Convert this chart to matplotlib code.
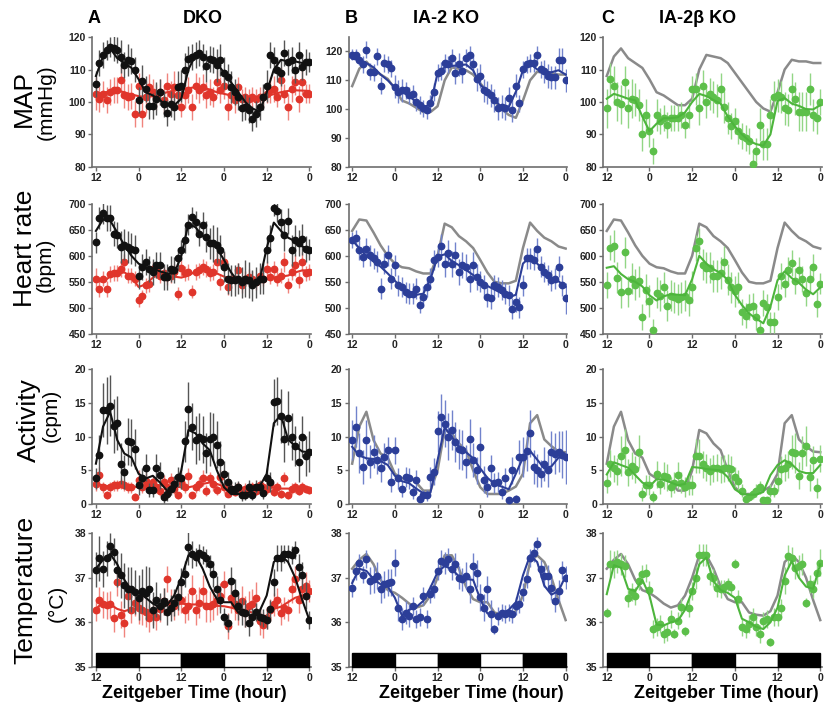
import numpy as np
import matplotlib.pyplot as plt
from matplotlib.patches import Rectangle

plt.rcParams['font.family'] = ['Liberation Sans', 'DejaVu Sans']

# hours after ZT12 of the first night, one point per hour, fitted curves every 2 h
hours = np.arange(61)
fit_hours = np.arange(0, 61, 2)
tick_pos = [0, 12, 24, 36, 48, 60]
tick_lab = ['12', '0', '12', '0', '12', '0']
phases = ['dark', 'light', 'dark', 'light', 'dark']

# ---- MAP (mmHg)
map_wt = [105.6, 112, 114.5, 116, 117, 116.5, 116, 114, 111.5, 113,
          112.5, 110, 100.5, 106.5, 104, 98.8, 98.7, 101, 103, 99.5,
          96.5, 99.5, 98.5, 104.5, 105, 110, 113.3, 113.8, 114.4, 115,
          114, 111, 113.3, 112.8, 111.3, 113, 109, 107.7, 104.6, 103,
          101.5, 98, 98.5, 97.4, 94.9, 96.4, 98.5, 101.5, 105, 114.4,
          113, 110, 109, 115, 112.3, 112.8, 109.7, 114.4, 110.8, 112.3,
          112.3]
map_wt_err = [4, 4, 4, 3, 3, 4, 4, 5, 4, 5,
              4, 4, 4, 5, 4, 4, 4, 5, 4, 4,
              4, 4, 4, 5, 5, 5, 4, 4, 4, 4,
              4, 5, 4, 4, 5, 5, 5, 4, 5, 4,
              4, 4, 4, 4, 4, 4, 4, 4, 5, 4,
              4, 4, 4, 4, 4, 4, 4, 4, 4, 4,
              3]
map_wt_fit = [108, 114, 116.5, 113.5, 112, 110.5, 107, 103, 102, 100.5,
              99, 99, 101, 110, 114.5, 114, 113.5, 112, 109, 106,
              103, 100, 98, 97, 103, 110, 113, 112.5, 112.5, 112,
              112]
map_dko = [102.6, 101, 102.6, 100.5, 103, 103.6, 103.6, 106.7, 102, 101.5,
           101.7, 96.4, 105, 96.4, 101.5, 104.6, 103, 101.5, 103, 100.5,
           105, 102.6, 104.6, 102, 98.5, 102, 103.6, 98.5, 105, 103.6,
           104.6, 102, 103, 101.5, 106, 103.6, 105, 98.5, 102, 100.5,
           104.6, 101, 101.5, 101, 101.5, 101, 101.5, 101.5, 102.6, 103.6,
           104, 101.5, 106.7, 102.6, 98.5, 104, 106, 101, 106, 102.6,
           102.6]
map_dko_err = [5, 4, 4, 4, 4, 4, 4, 4, 4, 4,
               4, 4, 4, 4, 5, 4, 4, 4, 4, 4,
               4, 4, 5, 4, 3, 4, 4, 4, 4, 4,
               4, 4, 4, 3, 4, 4, 4, 4, 4, 4,
               3, 3, 3, 3, 3, 3, 3, 3, 3, 4,
               4, 3, 4, 3, 4, 4, 4, 4, 4, 3,
               3]
map_dko_fit = [102.5, 102.8, 103.3, 103.5, 103, 102.3, 101.8, 101.5, 101.8, 102.3,
               103, 103.5, 103.8, 104.2, 104.6, 104.5, 103.8, 103, 102.5, 102,
               101.6, 101.4, 101.3, 101.4, 101.8, 102.4, 103, 103.4, 103.6, 103.5,
               103.4]
map_ia2 = [118.9, 118.9, 117.2, 115.5, 120.6, 113, 112.8, 118.3, 108.2, 116,
           115.5, 114.2, 107.8, 106, 106.5, 106.5, 104.8, 105.4, 102.5, 101.4,
           100.3, 99.7, 102, 106, 112.7, 113.2, 116, 115.5, 117.7, 112.7,
           115.5, 113.2, 117.7, 118.9, 115.5, 110.4, 111.5, 106.5, 105.9, 104.8,
           103.1, 100.3, 100.8, 100.3, 103.7, 99.7, 108.2, 102, 113.8, 115.5,
           116, 116, 118.9, 113.8, 113.2, 111.5, 111, 111, 117.2, 117.2,
           110]
map_ia2_err = [2, 2, 2, 3, 3, 3, 3, 3, 3, 3,
               3, 3, 4, 4, 4, 3, 3, 3, 3, 3,
               3, 3, 3, 3, 3, 3, 3, 3, 3, 4,
               4, 4, 3, 3, 3, 4, 4, 4, 4, 4,
               4, 4, 4, 4, 4, 4, 4, 3, 3, 3,
               3, 3, 3, 3, 4, 4, 4, 4, 4, 4,
               4]
map_ia2_fit = [117.5, 117, 116, 114.5, 112, 110, 107.5, 106, 104.5, 102.5,
               100.8, 101.5, 112.5, 114.5, 115, 115.2, 115.5, 113.5, 108.5, 106,
               103, 100.8, 100.8, 106, 113.5, 115.8, 113.8, 113, 112.8, 113.5,
               112]
map_ia2b = [98, 107, 105, 100, 99.3, 106, 98, 101, 100.7, 99,
            90, 96, 91, 85, 96, 94, 95, 93, 95, 95,
            95, 96, 93, 96, 104, 104, 98, 105, 100, 102.5,
            101.5, 100.5, 104, 98.5, 95, 92.5, 94, 91, 89.5, 89,
            88, 81, 85, 93, 87, 87, 96, 101.5, 102, 101.5,
            98, 97.5, 104, 101, 97, 97, 97, 104, 96, 95,
            100]
map_ia2b_err = [6, 5, 6, 6, 6, 5, 6, 6, 5, 5,
                5, 5, 5, 4, 5, 4, 4, 4, 4, 4,
                4, 4, 4, 4, 4, 5, 5, 5, 5, 5,
                5, 5, 5, 5, 5, 4, 4, 4, 4, 4,
                4, 4, 4, 5, 5, 5, 5, 5, 5, 5,
                5, 5, 5, 5, 6, 6, 6, 5, 5, 5,
                4]
map_ia2b_fit = [101, 102.5, 101.8, 101, 100.5, 95.5, 91, 93.3, 95, 95,
                95.3, 96.8, 100, 102.5, 101.8, 100.6, 99.5, 95.5, 92.5, 90,
                88, 87, 86.5, 90, 100.3, 101.2, 99.5, 98.8, 97.8, 97.7,
                99]

# ---- Heart rate (bpm)
hr_wt = [626, 673, 682, 673, 673, 643, 640, 617, 621, 617,
         614, 611, 562, 579, 588, 575, 569, 582, 583, 559,
         560, 575, 572, 595, 611, 630, 660, 674, 666, 643,
         660, 637, 624, 624, 621, 611, 579, 556, 553, 553,
         556, 549, 556, 553, 543, 549, 556, 556, 611, 634,
         692, 686, 666, 640, 668, 611, 630, 624, 632, 614,
         612]
hr_wt_err = [20, 22, 20, 25, 25, 25, 25, 30, 30, 30,
             30, 30, 25, 25, 25, 25, 25, 25, 25, 25,
             25, 25, 25, 20, 20, 25, 20, 20, 20, 25,
             25, 30, 30, 35, 35, 30, 30, 30, 30, 30,
             30, 30, 35, 35, 30, 30, 30, 30, 25, 25,
             15, 20, 25, 30, 25, 30, 30, 25, 30, 25,
             20]
hr_wt_fit = [648, 670, 668, 645, 620, 600, 585, 578, 576, 570,
             566, 566, 600, 662, 655, 638, 628, 615, 592, 568,
             550, 547, 547, 552, 615, 664, 648, 635, 628, 618,
             614]
hr_dko = [556, 536, 556, 536, 565, 567, 567, 575, 588, 562,
          562, 556, 514, 523, 543, 546, 575, 572, 562, 566,
          559, 562, 569, 527, 577, 566, 569, 531, 569, 572,
          579, 575, 566, 569, 588, 549, 588, 540, 556, 556,
          572, 543, 556, 560, 556, 549, 562, 556, 575, 560,
          575, 556, 562, 588, 543, 569, 582, 553, 588, 566,
          569]
hr_dko_err = [20, 15, 15, 15, 15, 15, 15, 15, 15, 15,
              15, 15, 12, 12, 15, 15, 15, 15, 15, 15,
              15, 15, 15, 12, 15, 15, 15, 12, 15, 15,
              15, 15, 15, 15, 20, 15, 20, 15, 15, 15,
              15, 15, 15, 15, 15, 15, 15, 15, 15, 15,
              15, 15, 15, 20, 15, 15, 20, 15, 20, 15,
              15]
hr_dko_fit = [552, 550, 560, 566, 568, 560, 540, 545, 558, 565,
              562, 560, 558, 562, 570, 575, 574, 566, 560, 556,
              555, 553, 552, 553, 556, 558, 560, 562, 568, 572,
              572]
hr_ia2 = [630, 634, 611, 598, 614, 601, 595, 589, 537, 585,
          601, 556, 582, 543, 540, 530, 527, 527, 537, 505,
          521, 540, 556, 592, 598, 618, 585, 605, 585, 601,
          569, 582, 579, 556, 582, 560, 550, 543, 521, 518,
          543, 540, 534, 527, 524, 498, 511, 501, 543, 595,
          595, 592, 614, 579, 569, 563, 553, 556, 579, 543,
          518]
hr_ia2_err = [15, 15, 20, 20, 20, 20, 20, 20, 20, 20,
              20, 20, 20, 20, 20, 20, 20, 20, 20, 15,
              20, 20, 20, 20, 20, 25, 25, 25, 25, 25,
              25, 25, 25, 25, 25, 25, 20, 20, 20, 20,
              20, 20, 20, 20, 20, 20, 20, 20, 20, 20,
              20, 20, 20, 20, 20, 20, 20, 20, 20, 20,
              30]
hr_ia2_fit = [630, 615, 600, 589, 579, 566, 552, 538, 529, 525,
              527, 555, 598, 603, 590, 582, 573, 563, 553, 542,
              535, 528, 520, 525, 585, 598, 585, 571, 558, 551,
              540]
hr_ia2b = [544, 616, 619, 558, 530, 607, 532, 556, 544, 551,
           482, 535, 513, 458, 529, 523, 539, 504, 523, 520,
           516, 520, 523, 515, 540, 615, 628, 583, 577, 577,
           561, 561, 567, 589, 554, 539, 532, 539, 491, 485,
           501, 504, 482, 458, 510, 502, 472, 472, 520, 561,
           545, 573, 587, 551, 573, 556, 529, 556, 578, 508,
           546]
hr_ia2b_err = [25, 25, 30, 30, 30, 30, 30, 30, 30, 30,
               25, 30, 30, 20, 30, 30, 30, 30, 30, 30,
               30, 30, 30, 30, 30, 25, 25, 30, 30, 30,
               30, 30, 30, 30, 30, 30, 30, 30, 25, 25,
               25, 25, 25, 15, 25, 25, 20, 20, 25, 25,
               25, 25, 25, 25, 25, 25, 25, 25, 25, 25,
               20]
hr_ia2b_fit = [577, 580, 565, 555, 550, 541, 524, 514, 522, 526,
               525, 524, 555, 600, 585, 574, 567, 553, 525, 505,
               489, 479, 470, 502, 553, 570, 557, 548, 535, 526,
               539]

# ---- Activity (cpm)
act_wt = [3.8, 7.3, 13.9, 13.9, 14.6, 11.6, 12, 6, 4.8, 9.3,
          9.2, 8.2, 2.8, 3.8, 5.4, 2.1, 2.1, 5.4, 4.3, 1,
          1.5, 2.3, 3, 4, 3.8, 9.3, 14.1, 11.5, 9.5, 10,
          9.6, 7.6, 9.7, 10, 8.8, 6.3, 4.4, 3.3, 2.3, 2.3,
          2.5, 1.3, 1.4, 2.6, 1.4, 2.6, 2.5, 1.6, 3.8, 3.3,
          15.1, 15.3, 13.1, 9.7, 12.8, 10, 8.6, 6.3, 10, 7.1,
          7.8]
act_wt_err = [1.5, 3, 4, 5, 4.5, 4, 4, 3, 2.5, 3.5,
              3.5, 3, 1.5, 1.5, 2, 1, 1, 2, 2, 0.8,
              1, 1, 1.2, 1.5, 1.5, 3, 4, 3.5, 3.5, 3.5,
              3.5, 3, 4, 3.5, 3.5, 3, 2, 1.5, 1, 1,
              1, 0.8, 0.8, 1, 0.8, 1, 1, 0.8, 1.5, 1.5,
              3.5, 3.5, 4, 3.5, 4, 3.5, 3, 3, 3, 3,
              3]
act_wt_fit = [6, 11.5, 13.7, 9.5, 7.5, 6.9, 4.5, 3.8, 4.2, 3.2,
              2, 2, 5, 11, 10.5, 9, 8, 5, 2.5, 1.5,
              1.5, 1.5, 2, 2.6, 4.5, 12, 13.2, 9.6, 8.6, 7.8,
              7.7]
act_dko = [3, 4.3, 2.5, 1.4, 2.5, 2.8, 2.8, 3, 2.8, 2.5,
           2.5, 1.1, 3.6, 2.5, 3.5, 2.5, 3.3, 2.5, 2, 3.3,
           2.5, 3.6, 2.3, 1.3, 3.3, 2.5, 4.1, 1.3, 2.5, 3,
           3.9, 2, 3.8, 3, 2.1, 4, 2.5, 1.5, 2.3, 1.8,
           2.5, 2, 2.3, 1.8, 2.5, 2, 2.8, 2.5, 2.3, 3,
           1.8, 2.5, 1.5, 3.8, 1.3, 2.3, 2.5, 2, 2.5, 2.3,
           2.1]
act_dko_err = [1, 1.2, 0.8, 0.6, 0.8, 0.8, 0.8, 0.8, 0.8, 0.8,
               0.8, 0.5, 1.5, 0.8, 1.2, 0.8, 1, 0.8, 0.8, 1,
               0.8, 1, 0.8, 0.5, 1, 0.8, 1.2, 0.5, 0.8, 1,
               1.2, 0.8, 1, 1, 0.8, 1, 0.8, 0.5, 0.8, 0.6,
               0.8, 0.6, 0.8, 0.6, 0.8, 0.6, 0.8, 0.8, 0.8, 1,
               0.6, 0.8, 0.6, 1, 0.5, 0.8, 0.8, 0.6, 0.8, 0.6,
               0.6]
act_dko_fit = [3, 2.8, 2.6, 2.6, 2.7, 2.6, 2.5, 2.7, 2.9, 2.8,
               2.7, 2.6, 2.5, 2.5, 2.7, 3, 3.2, 3, 2.6, 2.3,
               2.1, 2.1, 2.2, 2.4, 2.5, 2.4, 2.3, 2.3, 2.3, 2.3,
               2.2]
act_ia2 = [9.5, 11.5, 7.6, 5.5, 9.5, 6.3, 7.8, 6.5, 5.3, 7,
           8, 3.3, 8, 3.8, 2.3, 4, 3.8, 1.8, 3.6, 0.8,
           1.3, 1.3, 4, 4.8, 10.8, 12.9, 11.9, 10, 11, 9.2,
           8.2, 8, 6.3, 9.7, 6.5, 5, 8.5, 3.6, 2.6, 5.3,
           3.1, 3.3, 1.8, 3.8, 0.6, 5, 0.8, 7, 7, 7.9,
           10.5, 5.5, 5, 4.5, 6, 5, 7.8, 7.5, 7.8, 7.3,
           7]
act_ia2_err = [3, 3, 3, 2.5, 3, 2.5, 2.5, 2, 2, 2,
               2, 1.5, 2, 1.5, 1.2, 1.5, 1.5, 1, 1.5, 0.5,
               0.8, 0.8, 1.5, 2, 3, 3.5, 3.5, 3.5, 3, 3,
               3, 3, 2.5, 3, 2.5, 2, 3, 2, 1.5, 2,
               1.5, 1.5, 1, 1.5, 0.5, 2, 0.5, 2.5, 3, 3,
               3.5, 2.5, 2.5, 2, 2.5, 2.5, 3, 3, 3, 3.5,
               4]
act_ia2_fit = [8.5, 7.2, 6.8, 6.7, 6.4, 5.8, 4.2, 3.4, 3.1, 2.3,
               1.6, 1.7, 6.5, 11.4, 10, 8.5, 7.7, 6.8, 5.3, 3.9,
               3, 2.6, 2.2, 4.5, 6.9, 7.9, 6.6, 5.3, 5.6, 6.9,
               7.1]
act_ia2b = [3.2, 6, 5.3, 4.9, 7.1, 8.1, 4.7, 5.7, 5.2, 7.8,
            1.5, 2.8, 2.8, 1.1, 4.4, 3, 4.2, 4, 2.5, 3.2,
            4.3, 3.2, 2.5, 2.8, 2.8, 7.1, 7.1, 5.9, 5.4, 4.9,
            5.3, 5.4, 5.2, 5.3, 5.4, 5.2, 4, 3.5, 2, 0.8,
            1.1, 1.5, 2, 2.5, 0.6, 0.6, 2, 2, 3.5, 5.2,
            5.4, 5.9, 7.7, 7.6, 4.2, 7.6, 8.6, 4, 6.6, 2.4,
            6.7]
act_ia2b_err = [1.5, 2, 2, 2, 3, 3, 2, 2, 2, 2.5,
                1, 1.5, 1.5, 0.8, 2, 1.5, 2, 2, 1.5, 1.5,
                2, 1.5, 1.5, 1.5, 1.5, 2.5, 2.5, 2, 2, 2,
                2, 2, 2, 2, 2, 2, 1.5, 1.5, 1, 0.5,
                0.5, 0.8, 1, 1, 0.5, 0.5, 1, 1, 1.5, 2,
                2, 2, 2.5, 3, 2, 2.5, 3, 2, 2, 1.5,
                2]
act_ia2b_fit = [4.4, 6.2, 5.8, 5.4, 4.3, 3.2, 2.6, 3.7, 3.6, 3.2,
                2.8, 3, 5.5, 5.4, 5.2, 5.1, 5, 4, 2.2, 1.5,
                1.4, 1.4, 1.8, 4.3, 5.8, 6.5, 5.9, 4.9, 4.6, 4.6,
                5.8]

# ---- Temperature (degC)
temp_wt = [37.18, 37.43, 37.2, 37.43, 37.7, 37.58, 37.18, 37.05, 36.83, 36.74,
           36.74, 36.68, 36.55, 36.7, 36.66, 36.74, 36.28, 36.51, 36.36, 36.47,
           36.24, 36.32, 36.44, 36.57, 36.91, 37.08, 37.69, 37.52, 37.47, 37.56,
           37.5, 37.43, 37.31, 37.08, 36.74, 36.51, 36.13, 35.98, 36.93, 36.66,
           36.36, 36.24, 36.2, 35.99, 36.13, 36.24, 36.13, 36.09, 36.05, 36.3,
           36.9, 37.44, 37.44, 37.52, 37.54, 37.5, 37.62, 37.24, 37.05, 36.6,
           36.05]
temp_wt_err = [0.4, 0.5, 0.4, 0.4, 0.3, 0.3, 0.4, 0.5, 0.5, 0.5,
               0.5, 0.5, 0.5, 0.5, 0.6, 0.5, 0.4, 0.4, 0.3, 0.3,
               0.3, 0.3, 0.3, 0.3, 0.3, 0.3, 0.4, 0.3, 0.2, 0.2,
               0.2, 0.2, 0.2, 0.3, 0.3, 0.3, 0.2, 0.2, 0.3, 0.3,
               0.3, 0.3, 0.3, 0.3, 0.2, 0.2, 0.2, 0.2, 0.2, 0.2,
               0.3, 0.3, 0.3, 0.2, 0.2, 0.2, 0.2, 0.3, 0.3, 0.3,
               0.2]
temp_wt_fit = [37.2, 37.4, 37.53, 37.3, 36.95, 36.72, 36.66, 36.55, 36.42, 36.33,
               36.38, 36.6, 37.0, 37.5, 37.5, 37.2, 36.8, 36.52, 36.45, 36.45,
               36.22, 36.17, 36.15, 36.25, 36.6, 37.35, 37.5, 37.35, 37.0, 36.5,
               36.05]
temp_dko = [36.28, 36.5, 36.4, 36.38, 36.4, 36.09, 36.9, 36.17, 35.98, 36.6,
            36.28, 36.44, 36.32, 36.28, 36.24, 36.09, 36.24, 36.13, 36.3, 36.47,
            36.97, 36.44, 36.36, 36.47, 36.51, 36.28, 36.36, 36.7, 36.28, 36.44,
            36.7, 36.36, 36.36, 36.4, 36.51, 36.59, 36.85, 35.92, 36.55, 36.4,
            36.28, 36.47, 36.24, 36.36, 36.4, 36.55, 36.02, 35.94, 36.09, 36.28,
            36.4, 36.51, 36.2, 36.32, 36.28, 36.74, 36.97, 36.51, 36.74, 36.82,
            36.7]
temp_dko_err = [0.25, 0.3, 0.3, 0.3, 0.3, 0.3, 0.3, 0.3, 0.3, 0.3,
                0.3, 0.3, 0.35, 0.35, 0.35, 0.3, 0.3, 0.3, 0.3, 0.3,
                0.3, 0.3, 0.3, 0.3, 0.3, 0.3, 0.3, 0.35, 0.35, 0.35,
                0.35, 0.35, 0.35, 0.35, 0.35, 0.3, 0.3, 0.3, 0.35, 0.35,
                0.35, 0.35, 0.35, 0.35, 0.35, 0.35, 0.3, 0.3, 0.25, 0.25,
                0.25, 0.25, 0.25, 0.25, 0.25, 0.3, 0.3, 0.3, 0.3, 0.3,
                0.25]
temp_dko_fit = [36.3, 36.45, 36.4, 36.3, 36.25, 36.3, 36.32, 36.25, 36.22, 36.28,
                36.4, 36.45, 36.42, 36.4, 36.4, 36.42, 36.4, 36.37, 36.36, 36.33,
                36.28, 36.25, 36.22, 36.12, 36.15, 36.3, 36.35, 36.45, 36.55, 36.6,
                36.65]
temp_ia2 = [36.76, 37.15, 37.33, 37.07, 37.41, 36.93, 36.96, 37.04, 36.74, 36.85,
            36.89, 36.9, 37.33, 36.33, 36.07, 36.22, 36.15, 36.37, 36.07, 36.11,
            36.59, 36.07, 36.63, 36.74, 37.15, 37.37, 37.33, 37.41, 37.19, 37.3,
            37.0, 36.96, 37.04, 36.74, 37.26, 37.1, 36.56, 36.33, 36.74, 36.19,
            35.85, 36.15, 36.22, 36.19, 36.22, 36.19, 36.37, 36.41, 36.67, 36.96,
            37.44, 37.56, 37.76, 37.19, 37.04, 37.04, 36.76, 36.48, 36.7, 37.17,
            37.0]
temp_ia2_err = [0.2, 0.2, 0.2, 0.2, 0.2, 0.3, 0.3, 0.3, 0.3, 0.3,
                0.3, 0.3, 0.3, 0.3, 0.25, 0.25, 0.25, 0.2, 0.2, 0.2,
                0.2, 0.2, 0.2, 0.2, 0.2, 0.25, 0.25, 0.25, 0.25, 0.25,
                0.25, 0.25, 0.3, 0.3, 0.3, 0.3, 0.3, 0.3, 0.3, 0.3,
                0.1, 0.2, 0.2, 0.2, 0.2, 0.2, 0.2, 0.2, 0.2, 0.2,
                0.2, 0.2, 0.15, 0.2, 0.25, 0.25, 0.25, 0.25, 0.25, 0.2,
                0.25]
temp_ia2_fit = [36.88, 37.2, 37.15, 36.97, 36.85, 36.8, 36.55, 36.15, 36.28, 36.34,
                36.48, 36.78, 37.12, 37.26, 37.19, 37.03, 36.97, 36.95, 36.52, 36.2,
                36.15, 36.2, 36.28, 36.45, 37.05, 37.5, 37.35, 36.82, 36.62, 36.7,
                37.04]
temp_ia2b = [36.22, 37.31, 37.3, 37.36, 37.3, 37.26, 36.54, 36.67, 36.59, 36.93,
             37.09, 37.11, 36.72, 35.85, 35.89, 35.96, 35.74, 35.78, 36.07, 35.74,
             36.04, 36.35, 35.8, 36.33, 36.7, 37.0, 37.5, 37.5, 37.5, 37.04,
             37.0, 36.76, 36.74, 36.8, 36.85, 36.78, 37.31, 36.52, 35.89, 35.85,
             35.96, 36.11, 35.89, 35.74, 36.04, 36.07, 35.56, 36.11, 36.11, 36.33,
             36.93, 37.48, 37.44, 37.22, 37.26, 37.31, 36.44, 36.85, 36.74, 37.11,
             37.33]
temp_ia2b_err = [0.1, 0.3, 0.3, 0.25, 0.25, 0.25, 0.2, 0.2, 0.2, 0.2,
                 0.2, 0.2, 0.2, 0.2, 0.2, 0.2, 0.2, 0.2, 0.2, 0.1,
                 0.2, 0.2, 0.1, 0.2, 0.2, 0.25, 0.25, 0.25, 0.25, 0.2,
                 0.2, 0.2, 0.2, 0.15, 0.15, 0.15, 0.1, 0.2, 0.2, 0.2,
                 0.2, 0.2, 0.2, 0.2, 0.2, 0.2, 0.1, 0.2, 0.2, 0.2,
                 0.3, 0.25, 0.25, 0.25, 0.25, 0.25, 0.1, 0.2, 0.2, 0.25,
                 0.3]
temp_ia2b_fit = [36.63, 37.28, 37.22, 36.75, 36.7, 36.95, 36.6, 35.95, 35.93, 36.0,
                 36.04, 36.28, 36.7, 37.3, 37.45, 36.92, 36.72, 36.66, 36.55, 36.08,
                 36.0, 35.9, 35.85, 36.0, 36.33, 37.05, 37.37, 37.0, 36.8, 36.75,
                 37.3]

row_names = [('MAP', '(mmHg)'), ('Heart rate', '(bpm)'), ('Activity', '(cpm)'), ('Temperature', '(°C)')]
row_ylims = [(80, 120), (450, 700), (0, 20), (35, 38)]
row_yticks = [[80, 90, 100, 110, 120], [450, 500, 550, 600, 650, 700],
              [0, 5, 10, 15, 20], [35, 36, 37, 38]]

wt_rows = [(map_wt, map_wt_err, map_wt_fit), (hr_wt, hr_wt_err, hr_wt_fit),
           (act_wt, act_wt_err, act_wt_fit), (temp_wt, temp_wt_err, temp_wt_fit)]
dko_rows = [(map_dko, map_dko_err, map_dko_fit), (hr_dko, hr_dko_err, hr_dko_fit),
            (act_dko, act_dko_err, act_dko_fit), (temp_dko, temp_dko_err, temp_dko_fit)]
ia2_rows = [(map_ia2, map_ia2_err, map_ia2_fit), (hr_ia2, hr_ia2_err, hr_ia2_fit),
            (act_ia2, act_ia2_err, act_ia2_fit), (temp_ia2, temp_ia2_err, temp_ia2_fit)]
ia2b_rows = [(map_ia2b, map_ia2b_err, map_ia2b_fit), (hr_ia2b, hr_ia2b_err, hr_ia2b_fit),
             (act_ia2b, act_ia2b_err, act_ia2b_fit), (temp_ia2b, temp_ia2b_err, temp_ia2b_fit)]

# colours: (dot, errorbar, line)
BLACK = ('#111111', '#555555', '#111111')
RED = ('#e0352b', '#f0847d', '#e0352b')
BLUE = ('#2c3e98', '#7183cc', '#2c3e98')
GREEN = ('#5cbf4a', '#92d685', '#4db53c')
GRAY = '#8a8a8a'

fig = plt.figure(figsize=(8.32, 7.13), dpi=100)

col_left = [0.111, 0.419, 0.725]
col_width = 0.263
row_box = [(0.766, 0.182), (0.532, 0.182), (0.293, 0.189), (0.0645, 0.188)]


def draw_series(ax, data, colors, z):
    vals, err, fit = data
    dot, ecol, lcol = colors
    ax.errorbar(hours, vals, yerr=err, fmt='o', ms=4.6, mfc=dot, mec=dot,
                ecolor=ecol, elinewidth=1.0, capsize=0, zorder=z)
    ax.plot(fit_hours, fit, color=lcol, lw=1.5, zorder=z + 1)


for r in range(4):
    for c in range(3):
        ax = fig.add_axes([col_left[c], row_box[r][0], col_width, row_box[r][1]])
        ax.set_facecolor('none')
        if c == 0:
            draw_series(ax, dko_rows[r], RED, 2)
            draw_series(ax, wt_rows[r], BLACK, 4)
        else:
            ax.plot(fit_hours, wt_rows[r][2], color=GRAY, lw=1.8, zorder=2)
            draw_series(ax, ia2_rows[r] if c == 1 else ia2b_rows[r],
                        BLUE if c == 1 else GREEN, 3)

        lo, hi = row_ylims[r]
        if r == 0 and c == 1:
            hi = 125
        ax.set_ylim(lo, hi)
        ax.set_yticks(row_yticks[r])
        ax.set_xlim(-1, 60.5)
        ax.set_xticks(tick_pos)
        ax.set_xticklabels(tick_lab)

        for s in ['top', 'right']:
            ax.spines[s].set_visible(False)
        for s in ['left', 'bottom']:
            ax.spines[s].set_color('#6e6e6e')
            ax.spines[s].set_linewidth(1.2)
        ax.tick_params(direction='out', length=3, width=1, color='#6e6e6e',
                       labelsize=7.5, labelcolor='#222222', pad=1.5)
        for lab in ax.get_xticklabels() + ax.get_yticklabels():
            lab.set_fontweight('bold')

        if r == 3:
            # light / dark bar along the bottom of the temperature panels
            for i, ph in enumerate(phases):
                ax.add_patch(Rectangle((tick_pos[i], 35.0), 12, 0.32,
                                       facecolor='black' if ph == 'dark' else 'white',
                                       edgecolor='black', lw=1, zorder=6, clip_on=False))

# row labels
label_pos = [(0.029, 0.862, 0.055, 0.857), (0.030, 0.652, 0.054, 0.628),
             (0.035, 0.411, 0.062, 0.417), (0.031, 0.172, 0.069, 0.154)]
for (big, small), (x1, y1, x2, y2) in zip(row_names, label_pos):
    fig.text(x1, y1, big, rotation=90, fontsize=19, ha='center', va='center')
    fig.text(x2, y2, small, rotation=90, fontsize=15, ha='center', va='center')

# column titles
fig.text(0.113, 0.974, 'A', fontsize=13, fontweight='bold', ha='center', va='center')
fig.text(0.244, 0.974, 'DKO', fontsize=13, fontweight='bold', ha='center', va='center')
fig.text(0.422, 0.974, 'B', fontsize=13, fontweight='bold', ha='center', va='center')
fig.text(0.536, 0.974, 'IA-2 KO', fontsize=13, fontweight='bold', ha='center', va='center')
fig.text(0.730, 0.974, 'C', fontsize=13, fontweight='bold', ha='center', va='center')
fig.text(0.839, 0.974, 'IA-2β KO', fontsize=13, fontweight='bold', ha='center', va='center')

for xc in [0.234, 0.567, 0.873]:
    fig.text(xc, 0.028, 'Zeitgeber Time (hour)', fontsize=13, fontweight='bold',
             ha='center', va='center')

fig.savefig('out.png', dpi=100)
